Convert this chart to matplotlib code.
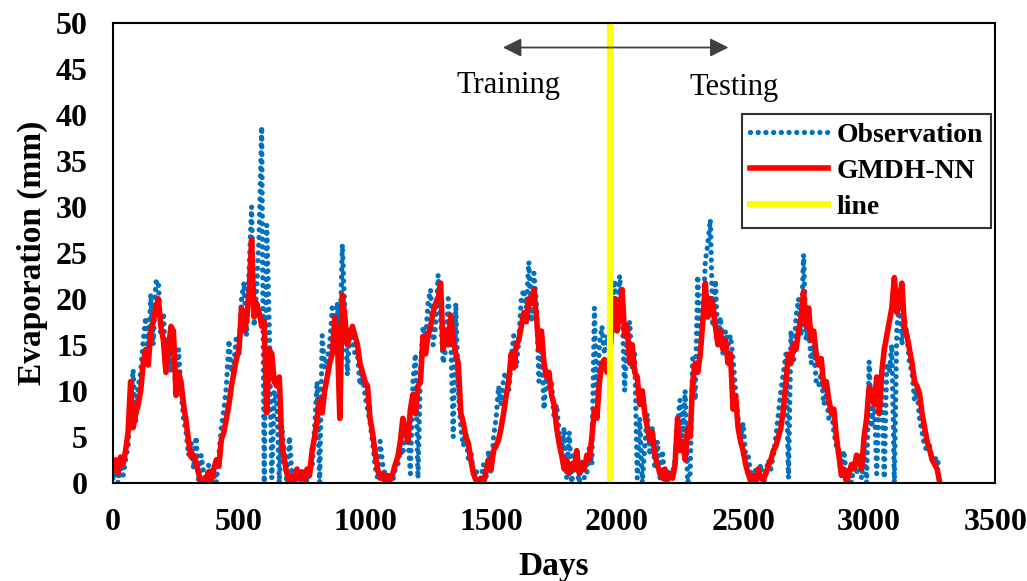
import numpy as np
import matplotlib
matplotlib.use("Agg")
import matplotlib.pyplot as plt

gmdh_nn = [
    1.5, 2.5, 1.0, 2.8, 2.0, 3.5, 5.5, 11.0, 6.0, 7.5,
    8.5, 10.0, 13.0, 14.5, 12.8, 16.5, 17.5, 19.0, 20.0, 17.0,
    15.5, 12.0, 14.5, 17.0, 16.5, 9.5, 12.0, 11.0, 8.5, 6.7,
    4.5, 2.8, 3.0, 2.2, 1.0, 0.0, 0.3, 0.5, 1.2, 0.2,
    1.5, 2.5, 1.8, 4.7, 5.5, 7.0, 8.5, 10.5, 12.0, 13.5,
    14.5, 19.0, 16.5, 17.6, 20.5, 26.4, 18.0, 19.5, 18.5, 17.0,
    17.5, 7.6, 14.5, 14.0, 11.0, 10.5, 11.5, 4.3, 2.5, 1.0,
    0.3, 0.8, 0.0, 1.5, 0.5, 1.2, 0.4, 1.5, 0.8, 3.5,
    5.0, 7.0, 9.0, 7.6, 10.0, 11.5, 13.0, 14.0, 18.0, 16.0,
    7.0, 20.4, 18.0, 15.0, 16.0, 17.0, 16.0, 15.0, 13.0, 12.0,
    11.0, 10.5, 7.0, 5.4, 3.3, 1.5, 0.5, 1.0, 0.0, 0.8,
    0.3, 1.0, 2.0, 2.8, 4.5, 7.0, 5.5, 4.5, 8.0, 9.6,
    7.5, 10.5, 11.0, 15.9, 14.0, 16.0, 17.0, 18.5, 19.5, 20.0,
    21.7, 14.5, 16.5, 15.0, 18.2, 15.5, 14.0, 13.0, 7.6, 6.5,
    5.0, 4.3, 2.5, 1.0, 0.3, 0.0, 0.5, 0.0, 1.2, 2.5,
    1.5, 3.5, 4.0, 4.7, 6.0, 7.6, 9.5, 11.0, 14.0, 12.5,
    15.0, 15.5, 17.0, 18.5, 17.5, 20.0, 19.5, 21.0, 18.0, 14.5,
    16.5, 13.0, 11.5, 12.0, 9.5, 8.5, 6.0, 4.3, 3.0, 1.5,
    2.5, 1.0, 2.0, 1.5, 3.5, 1.0, 2.0, 1.5, 3.0, 2.5,
    5.0, 8.0, 7.0, 11.0, 13.0, 13.4, 12.0, 13.5, 17.0, 20.0,
    16.5, 18.5, 21.0, 16.0, 17.0, 13.0, 15.0, 12.0, 11.5, 8.5,
    10.0, 7.5, 6.0, 4.5, 5.5, 3.0, 2.0, 1.0, 0.5, 1.5,
    0.3, 1.0, 0.5, 2.0, 7.0, 3.5, 4.5, 2.5, 6.0, 5.0,
    11.0, 13.0, 12.0, 14.0, 17.5, 21.7, 18.0, 20.0, 19.5, 17.0,
    15.0, 16.5, 14.5, 15.5, 13.0, 14.0, 8.0, 9.5, 6.0, 4.5,
    3.5, 2.0, 1.0, 0.2, 0.8, 0.0, 1.5, 0.5, 0.3, 1.0,
    1.8, 2.5, 3.5, 4.0, 5.0, 6.0, 8.0, 11.0, 14.0, 13.0,
    15.0, 14.5, 16.5, 18.0, 20.8, 17.0, 19.0, 15.5, 16.5, 14.0,
    12.8, 13.5, 10.5, 11.0, 9.0, 7.6, 8.0, 5.0, 3.0, 0.8,
    1.5, 0.0, 1.0, 2.0, 1.5, 3.0, 2.5, 1.5, 5.0, 7.0,
    10.4, 10.0, 8.5, 11.5, 7.5, 12.0, 14.5, 16.0, 17.5, 19.0,
    22.3, 18.5, 20.0, 21.7, 17.0, 16.0, 14.5, 13.0, 11.0, 10.5,
    9.7, 7.5, 6.0, 4.5, 3.6, 2.5, 2.0, 1.5, 0.0,
]

observation = [
    0.5, 1.5, 0.0, 2.0, 0.8, 2.5, 4.0, 9.0, 12.3, 6.5,
    10.5, 12.0, 15.5, 18.0, 13.5, 20.5, 15.0, 21.8, 22.0, 16.0,
    18.5, 13.0, 15.5, 12.0, 14.5, 10.0, 14.5, 10.0, 7.0, 5.5,
    3.0, 4.5, 1.5, 5.0, 0.0, 3.0, 1.0, 0.0, 2.0, 0.5,
    1.0, 0.0, 3.0, 6.0, 8.0, 10.5, 15.5, 12.0, 13.0, 16.0,
    14.0, 20.0, 21.8, 16.0, 23.0, 30.0, 17.0, 21.0, 27.0, 38.7,
    0.0, 28.0, 17.0, 0.5, 10.0, 9.0, 0.0, 6.0, 3.0, 0.0,
    5.0, 1.0, 0.2, 1.0, 0.0, 0.5, 1.0, 0.0, 2.0, 1.5,
    6.0, 11.0, 0.0, 16.0, 12.5, 13.5, 15.0, 19.0, 16.5, 19.6,
    15.0, 25.9, 18.5, 11.7, 17.0, 15.5, 14.0, 14.0, 10.6, 12.0,
    9.5, 8.0, 6.5, 4.4, 1.8, 0.5, 4.5, 2.0, 0.8, 0.0,
    0.5, 0.2, 1.5, 2.0, 3.5, 3.0, 6.0, 5.0, 1.0, 11.0,
    14.0, 0.5, 12.0, 17.0, 15.5, 19.5, 21.0, 15.0, 17.0, 22.6,
    18.0, 13.0, 14.5, 20.0, 16.0, 5.0, 19.5, 10.0, 6.0, 4.0,
    5.5, 2.5, 3.5, 0.8, 1.5, 0.0, 0.5, 2.0, 0.5, 3.5,
    1.0, 5.0, 7.0, 10.5, 8.5, 11.5, 12.0, 10.0, 13.5, 16.0,
    12.5, 15.5, 20.0, 21.0, 19.0, 24.0, 17.5, 22.8, 19.5, 11.0,
    15.5, 8.0, 11.5, 10.0, 11.0, 7.0, 8.5, 5.5, 3.5, 6.0,
    0.5, 5.5, 0.0, 3.0, 1.5, 0.0, 2.5, 0.5, 1.0, 4.0,
    2.0, 19.0, 8.5, 15.0, 17.0, 14.0, 16.0, 14.5, 19.5, 22.0,
    17.0, 22.5, 19.0, 10.0, 16.5, 17.5, 12.5, 14.0, 0.5, 7.0,
    0.0, 4.0, 7.5, 3.0, 6.0, 1.5, 4.5, 0.5, 3.5, 0.0,
    1.5, 0.5, 1.0, 2.5, 6.5, 9.0, 5.0, 10.0, 0.0, 1.0,
    13.5, 9.0, 22.5, 15.0, 18.0, 24.0, 26.0, 28.6, 17.0, 22.0,
    15.5, 18.0, 14.0, 16.5, 15.0, 16.0, 13.5, 10.0, 7.0, 5.0,
    6.5, 3.0, 3.0, 1.0, 0.0, 1.5, 0.5, 2.0, 0.0, 1.0,
    2.5, 1.5, 3.0, 5.0, 7.5, 10.0, 12.0, 14.0, 0.5, 16.5,
    13.0, 18.0, 20.0, 16.0, 24.8, 15.5, 17.0, 13.0, 15.0, 11.0,
    10.5, 12.0, 8.5, 9.5, 7.0, 8.0, 5.5, 4.0, 3.0, 2.0,
    3.5, 0.5, 1.5, 0.0, 2.0, 1.0, 3.0, 0.5, 4.0, 0.0,
    13.2, 6.0, 10.0, 1.0, 9.0, 11.0, 0.5, 13.0, 12.0, 15.0,
    0.0, 17.0, 19.0, 15.0, 18.0, 16.0, 13.0, 12.0, 9.0, 10.0,
    7.0, 5.5, 4.0, 3.5, 4.0, 2.5, 3.0, 2.0, 2.5,
]

days = np.arange(len(gmdh_nn)) * 10
split_day = 1973
arrow_left, arrow_right, arrow_y = 1547, 2442, 47.3

plt.rcParams['font.family'] = ['Liberation Serif', 'DejaVu Serif']

fig = plt.figure(figsize=(10.27, 5.81), dpi=100)
ax = fig.add_axes([0.110, 0.169, 0.859, 0.792])

ax.plot(days, observation, color='#0070C0', lw=3.8,
        linestyle=(0, (0.01, 1.45)), dash_capstyle='round', label='Observation')
ax.plot(days, gmdh_nn, color='#FF0000', lw=4.0, label='GMDH-NN')
ax.axvline(split_day, color='#FFFF00', lw=4.5, label='line')

ax.annotate('', xy=(arrow_left, arrow_y), xytext=(arrow_right, arrow_y),
            arrowprops=dict(arrowstyle='<|-|>', color='#404040', lw=1.3,
                            mutation_scale=28, shrinkA=0, shrinkB=0))
ax.text(1571, 43.2, 'Training', fontsize=22, ha='center', va='center')
ax.text(2466, 43.0, 'Testing', fontsize=22, ha='center', va='center')

ax.set_xlim(0, 3500)
ax.set_ylim(0, 50)
ax.set_xticks(range(0, 3501, 500))
ax.set_yticks(range(0, 51, 5))
ax.tick_params(length=0, labelsize=23)
ax.tick_params(axis='x', pad=18)
ax.tick_params(axis='y', pad=18)
for lab in ax.get_xticklabels() + ax.get_yticklabels():
    lab.set_fontweight('bold')
for s in ax.spines.values():
    s.set_color('black')
    s.set_linewidth(1.5)

ax.set_xlabel('Days', fontsize=24, fontweight='bold', labelpad=10)
ax.set_ylabel('Evaporation (mm)', fontsize=24, fontweight='bold', labelpad=6)

leg = ax.legend(loc='upper right', bbox_to_anchor=(0.9955, 0.8015),
                prop={'weight': 'bold', 'size': 20}, frameon=True, fancybox=False,
                edgecolor='black', handlelength=2.8, handletextpad=0.3,
                labelspacing=0.38, borderpad=0.3, borderaxespad=0)
leg.get_frame().set_linewidth(1.5)

fig.savefig('out.png', dpi=100)
